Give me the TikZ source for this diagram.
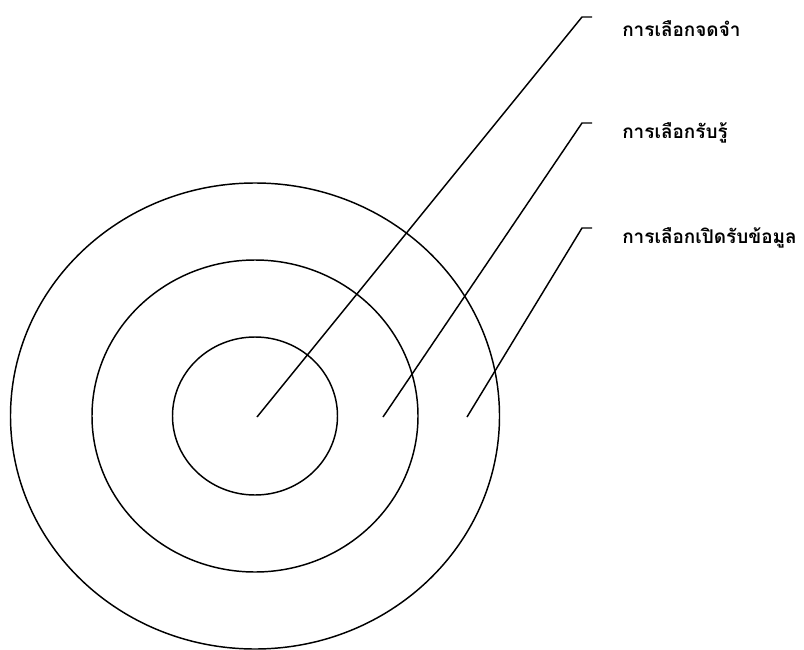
\documentclass[tikz,border=0pt]{standalone}
\usepackage{fontspec}
\newfontfamily\thaifont[Script=Thai]{Loma}
\usetikzlibrary{positioning}

\begin{document}
\begin{tikzpicture}[
        x=0.75pt, y=-0.75pt,
        % Define styles for the rings, leaders and labels
        ring/.style={draw, line width=1.1pt},
        leader/.style={draw, line width=1.1pt, line join=miter},
        label/.style={anchor=west, inner sep=0pt, font=\thaifont\bfseries\fontsize{14.2}{17}\selectfont}
    ]
    \useasboundingbox (0,0) rectangle (804,650);

    % --- Rings ---
    \coordinate (centre) at (255,416);
    \draw [ring] (centre) ellipse [x radius=244.5, y radius=233];
    \draw [ring] (centre) ellipse [x radius=163, y radius=156];
    \draw [ring] (centre) ellipse [x radius=82.5, y radius=79];

    % --- Points in the rings ---
    \coordinate (inner) at (257,417);
    \coordinate (middle) at (383,417);
    \coordinate (outer) at (467,417);

    % --- Labels ---
    \node [label] (memory) at (622,29) {การเลือกจดจำ};
    \node [label] (perceive) at (622,133) {การเลือกรับรู้};
    \node [label] (expose) at (622,238) {การเลือกเปิดรับข้อมูล};

    % Elbows of the leaders
    \coordinate (k1) at (582,17);
    \coordinate (k2) at (582,123);
    \coordinate (k3) at (582,228);

    % --- Leaders ---
    \path [leader] (inner) -- (k1) -- ++(10,0);
    \path [leader] (middle) -- (k2) -- ++(10,0);
    \path [leader] (outer) -- (k3) -- ++(10,0);

\end{tikzpicture}
\end{document}
